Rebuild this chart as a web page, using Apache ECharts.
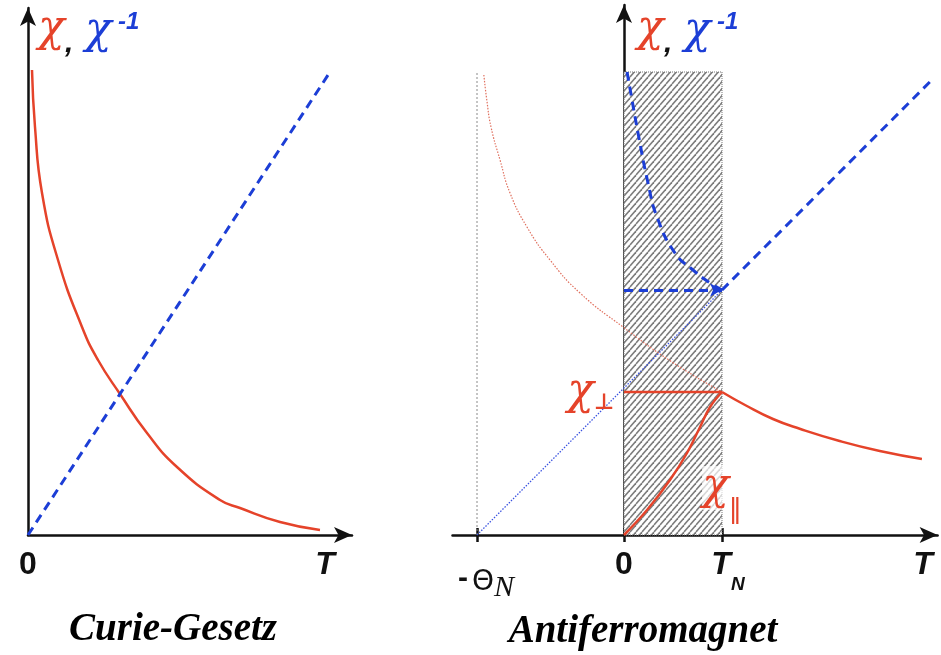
<!DOCTYPE html>
<html>
<head>
<meta charset="utf-8">
<script src="https://cdn.jsdelivr.net/npm/echarts@6.0.0/dist/echarts.min.js"></script>
<style>
html, body { margin: 0; padding: 0; background: #fff; }
#main { width: 941px; height: 655px; }
</style>
</head>
<body>
<div id="main"></div>
<script>
// Curie-Gesetz (linkes Bild)
var curieT   = [0.04, 0.07, 0.14, 0.30, 0.54, 0.70, 0.92, 1.19, 1.49, 1.92, 2.12, 2.52, 2.92];
var curieChi = [4.65, 4.08, 3.42, 2.75, 2.08, 1.75, 1.41, 1.02, 0.68, 0.35, 0.27, 0.13, 0.05];
var curieInvT = [0, 3.02];
var curieInv  = [0, 4.63];

// Antiferromagnet (rechtes Bild), T in Einheiten von T_N
var theta = -1.5;
var TN = 1;
var hatchTop = 4.63;
var cwT   = [-1.43, -1.40, -1.357, -1.265, -1.163, -0.99, -0.755, -0.449, -0.01, 0.49, 1.0];   // Curie-Weiss, gepunktet
var cwChi = [4.60, 4.35, 4.08, 3.75, 3.42, 3.08, 2.75, 2.42, 2.08, 1.73, 1.43];
var paraT   = [1.0, 1.235, 1.52, 1.80, 2.20, 2.61, 3.04];                  // T > T_N
var paraChi = [1.43, 1.30, 1.16, 1.06, 0.94, 0.84, 0.76];
var perpT   = [0, 1.0];
var perpChi = [1.43, 1.43];
var parT   = [0, 0.235, 0.469, 0.643, 0.776, 0.878, 1.0];
var parChi = [0, 0.25, 0.55, 0.82, 1.08, 1.28, 1.43];
var invCwT = [-1.5, 1.0];        // 1/chi gepunktet bis -Theta_N
var invCw  = [0, 2.45];
var invParaT = [1.0, 3.12];
var invPara  = [2.45, 4.53];
var invLowT = [0.031, 0.082, 0.143, 0.245, 0.337, 0.52, 0.704, 0.878, 1.0];
var invLow  = [4.63, 4.35, 4.02, 3.52, 3.18, 2.82, 2.65, 2.52, 2.45];
var invPerpT = [0, 1.0];
var invPerp  = [2.45, 2.45];

// Achsenbeschriftungen
var leftTicks  = [0, 2.97];
var leftText   = ['{n|0}', '{t|T}'];
var rightTicks = [-1.5, 0, 1, 3.05];
var rightText  = ['{m|-}{th|Θ}{sub|N}', '{n|0}', '{t2|T}{ts|N}', '{t|T}'];
var perpLabelPos = [-0.34, 1.42];
var parLabelPos  = [1.0, 0.47];

var RED = '#e5432a', BLUE = '#1c3ed6', INK = '#111';
var CHI_FONT = 'DejaVu Serif';

function zip(xs, ys) {
    return xs.map(function (x, i) { return [x, ys[i]]; });
}

function hatch() {
    var c = document.createElement('canvas');
    c.width = 6; c.height = 7;
    var g = c.getContext('2d');
    g.fillStyle = '#fff';
    g.fillRect(0, 0, 6, 7);
    g.strokeStyle = '#7c7c7c';
    g.lineWidth = 1.5;
    for (var k = -1; k <= 1; k++) {
        g.beginPath();
        g.moveTo(k * 6, 7);
        g.lineTo(k * 6 + 6, 0);
        g.stroke();
    }
    return c;
}

var labelRich = {
    n:   { fontFamily: 'Liberation Sans', fontWeight: 'bold', fontSize: 32, lineHeight: 32, verticalAlign: 'top', color: INK },
    t:   { fontFamily: 'Liberation Sans', fontWeight: 'bold', fontStyle: 'italic', fontSize: 32, lineHeight: 32, verticalAlign: 'top', color: INK },
    t2:  { fontFamily: 'Liberation Sans', fontWeight: 'bold', fontStyle: 'italic', fontSize: 32, lineHeight: 32, verticalAlign: 'top', color: INK, padding: [0, 0, 0, 12] },
    ts:  { fontFamily: 'Liberation Sans', fontWeight: 'bold', fontStyle: 'italic', fontSize: 19, lineHeight: 19, verticalAlign: 'top', color: INK, padding: [26, 0, 0, 0] },
    m:   { fontFamily: 'Liberation Sans', fontWeight: 'bold', fontSize: 30, lineHeight: 30, verticalAlign: 'top', color: INK, padding: [15, 4, 0, 18] },
    th:  { fontFamily: 'DejaVu Sans', fontSize: 28, lineHeight: 28, verticalAlign: 'top', color: INK, padding: [20, 0, 0, 0] },
    sub: { fontFamily: 'Liberation Serif', fontStyle: 'italic', fontSize: 30, lineHeight: 30, verticalAlign: 'top', color: INK, padding: [24, 0, 0, 0] }
};

function axisLineStyle() {
    return { onZero: false, symbol: ['none', 'arrow'], symbolSize: [12, 18], lineStyle: { color: INK, width: 2.5 } };
}

function lineSeries(xi, data, color, width, type, smooth) {
    return {
        type: 'line', xAxisIndex: xi, yAxisIndex: xi === 0 ? 0 : 1,
        data: data, showSymbol: false, symbol: 'none', smooth: smooth || false,
        silent: true, animation: false,
        lineStyle: { color: color, width: width, type: type }
    };
}

function header(x0) {
    var chi = 'italic 44px "' + CHI_FONT + '"';
    return [
        { type: 'text', x: x0, y: 30, style: { text: 'χ', fill: RED, font: chi, verticalAlign: 'middle' } },
        { type: 'text', x: x0 + 27, y: 44, style: { text: ',', fill: INK, font: 'italic bold 30px "Liberation Sans"', verticalAlign: 'middle' } },
        { type: 'text', x: x0 + 47, y: 32, style: { text: 'χ', fill: BLUE, font: chi, verticalAlign: 'middle' } },
        { type: 'text', x: x0 + 80, y: 22, style: { text: '-1', fill: BLUE, font: 'italic bold 24px "Liberation Sans"', verticalAlign: 'middle' } }
    ];
}

var chart = echarts.init(document.getElementById('main'));

var invPerpSeries = lineSeries(1, [], BLUE, 3, [9, 6]);
invPerpSeries.markLine = {
    silent: true, animation: false,
    symbol: ['none', 'arrow'], symbolSize: [10, 12],
    label: { show: false },
    lineStyle: { color: BLUE, width: 3, type: [9, 6] },
    data: [[{ coord: [invPerpT[0], invPerp[0]] }, { coord: [invPerpT[1], invPerp[1]] }]]
};

var hatchSeries = lineSeries(1, zip([theta, theta], [0, hatchTop]), '#8a8a8a', 1, [2, 2]);
hatchSeries.z = 1;
hatchSeries.markArea = {
    silent: true, animation: false,
    itemStyle: { color: { image: hatch(), repeat: 'repeat' }, borderColor: '#777', borderWidth: 1, borderType: 'dotted' },
    data: [[{ coord: [0, 0] }, { coord: [TN, hatchTop] }]]
};

var perpSeries = lineSeries(1, zip(perpT, perpChi), RED, 2.5, 'solid');
perpSeries.markPoint = {
    silent: true, animation: false, symbolSize: 0,
    label: {
        show: true, formatter: '{c|χ}{s|⊥}',
        rich: {
            c: { fontFamily: CHI_FONT, fontStyle: 'italic', fontSize: 44, color: RED },
            s: { fontFamily: 'DejaVu Sans', fontWeight: 'bold', fontSize: 22, color: RED, padding: [20, 0, 0, 0] }
        }
    },
    data: [{ coord: perpLabelPos }]
};

var parSeries = lineSeries(1, zip(parT, parChi), RED, 2.5, 'solid', 0.4);
parSeries.markPoint = {
    silent: true, animation: false, symbolSize: 0,
    label: {
        show: true, formatter: '{c|χ}{s|‖}',
        rich: {
            c: { fontFamily: CHI_FONT, fontStyle: 'italic', fontSize: 44, color: RED, backgroundColor: 'rgba(255,255,255,0.7)' },
            s: { fontFamily: 'DejaVu Sans', fontSize: 26, color: RED, padding: [44, 0, 0, 0] }
        }
    },
    data: [{ coord: parLabelPos }]
};

var option = {
    backgroundColor: '#fff',
    animation: false,
    grid: [
        { left: 28, top: 8, width: 324, height: 527 },
        { left: 452.5, top: 5, width: 485.1, height: 530 }
    ],
    xAxis: [
        {
            gridIndex: 0, type: 'value', min: 0, max: 3.24, position: 'bottom',
            axisLine: axisLineStyle(), axisTick: { show: false }, splitLine: { show: false },
            axisLabel: {
                customValues: leftTicks, margin: 14, verticalAlign: 'top', rich: labelRich,
                formatter: function (v) { return leftText[leftTicks.indexOf(v)] || ''; }
            }
        },
        {
            gridIndex: 1, type: 'value', min: -1.75, max: 3.2, position: 'bottom',
            axisLine: axisLineStyle(), splitLine: { show: false },
            axisTick: { show: true, customValues: [theta, 0, TN], length: 7, lineStyle: { color: INK, width: 2.5 } },
            axisLabel: {
                customValues: rightTicks, margin: 14, verticalAlign: 'top', rich: labelRich,
                formatter: function (v) { return rightText[rightTicks.indexOf(v)] || ''; }
            }
        },
        {
            gridIndex: 1, type: 'value', min: -1.75, max: 3.2, position: 'bottom',
            axisLine: { show: false, onZero: false }, splitLine: { show: false }, axisLabel: { show: false },
            axisTick: { show: true, inside: true, customValues: [theta, 0, TN], length: 7, lineStyle: { color: INK, width: 2.5 } }
        }
    ],
    yAxis: [
        {
            gridIndex: 0, type: 'value', min: 0, max: 5.27,
            axisLine: axisLineStyle(), axisTick: { show: false }, axisLabel: { show: false }, splitLine: { show: false }
        },
        {
            gridIndex: 1, type: 'value', min: 0, max: 5.3,
            axisLine: { onZero: true, symbol: ['none', 'arrow'], symbolSize: [12, 18], lineStyle: { color: INK, width: 2.5 } },
            axisTick: { show: false }, axisLabel: { show: false }, splitLine: { show: false }
        }
    ],
    series: [
        lineSeries(0, zip(curieT, curieChi), RED, 2.5, 'solid', 0.5),
        lineSeries(0, zip(curieInvT, curieInv), BLUE, 3, [9, 6]),
        hatchSeries,
        lineSeries(1, zip(cwT, cwChi), '#e0705e', 1.2, [1.5, 1.5], 0.5),
        lineSeries(1, zip(invCwT, invCw), '#3a52e0', 1.3, [1.5, 1.5]),
        lineSeries(1, zip(invParaT, invPara), BLUE, 3, [9, 6]),
        lineSeries(1, zip(invLowT, invLow), BLUE, 3, [9, 6], 0.5),
        invPerpSeries,
        lineSeries(1, zip(paraT, paraChi), RED, 2.5, 'solid', 0.5),
        perpSeries,
        parSeries
    ],
    graphic: header(38).concat(header(637)).concat([
        { type: 'text', x: 173, y: 630, style: { text: 'Curie-Gesetz', fill: '#000', font: 'italic bold 39px "Liberation Serif"', align: 'center', verticalAlign: 'middle' } },
        { type: 'text', x: 643, y: 632, style: { text: 'Antiferromagnet', fill: '#000', font: 'italic bold 39px "Liberation Serif"', align: 'center', verticalAlign: 'middle' } }
    ])
};

chart.setOption(option);
</script>
</body>
</html>
